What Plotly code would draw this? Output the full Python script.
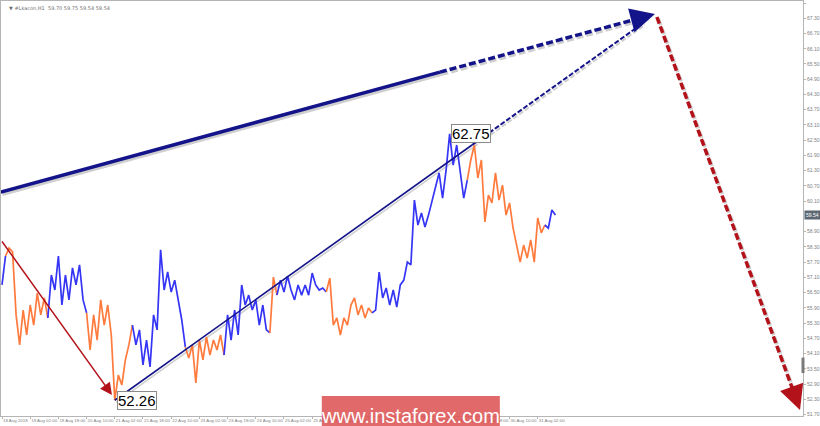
import plotly.graph_objects as go

# ---- data (H1 bars, one value every 2 hours) ----
price = [56.80, 57.94, 58.25, 58.10, 55.62, 54.44, 55.81, 54.83, 56.01, 55.22,
         56.48, 55.62, 56.29, 55.50, 57.19, 56.60, 57.94, 56.01, 57.19, 56.21,
         57.47, 56.80, 57.59, 56.21, 55.70, 54.24, 55.62, 54.63, 56.21, 55.22,
         56.01, 54.83, 52.26, 53.25, 52.86, 53.85, 54.44, 55.22, 54.44, 55.03,
         53.65, 54.63, 53.57, 55.62, 55.03, 58.18, 56.60, 57.31, 56.52, 56.99,
         56.21, 55.42, 54.36, 53.92, 54.44, 52.94, 54.63, 53.85, 54.75, 54.04,
         54.63, 54.24, 54.83, 54.04, 55.62, 54.63, 55.81, 54.83, 56.80, 56.01,
         56.40, 55.81, 56.21, 55.22, 56.01, 55.03, 54.91, 57.11, 56.40, 56.99,
         56.52, 57.15, 56.60, 56.21, 56.80, 56.40, 56.80, 56.40, 57.27, 56.80,
         56.60, 56.68, 56.52, 57.07, 55.22, 55.50, 54.83, 55.50, 55.22, 56.01,
         56.29, 55.62, 56.01, 55.50, 55.89, 55.70, 55.81, 57.31, 56.29, 56.68,
         56.01, 56.60, 55.93, 56.80, 56.99, 57.70, 57.59, 60.14, 59.16, 59.63,
         59.08, 59.55, 60.14, 60.73, 61.21, 60.22, 61.33, 62.75, 61.52, 62.31,
         61.33, 60.22, 60.93, 61.72, 62.31, 61.01, 61.72, 59.28, 60.34, 60.03,
         61.21, 60.14, 60.73, 59.55, 60.03, 59.04, 58.37, 57.70, 58.37, 57.86,
         58.57, 57.70, 59.44, 58.85, 59.16, 59.04, 59.75, 59.55]
hours = [2 * k for k in range(len(price))]

# wave segments (index boundaries) and their direction
seg_breaks = [0, 1, 13, 24, 37, 52, 63, 76, 78, 92, 105, 132, 154, 157]
seg_waves = ['up', 'down', 'up', 'down', 'up', 'down', 'up', 'down', 'up',
             'down', 'up', 'down', 'up']

x_ticks = [0, 16, 32, 48, 64, 80, 96, 112, 128, 144, 160, 176, 192, 208, 224,
           240, 256, 272, 288, 304]
x_labels = ['18 Aug 2018', '19 Aug 02:00', '19 Aug 18:00', '20 Aug 10:00',
            '21 Aug 02:00', '21 Aug 18:00', '22 Aug 10:00', '23 Aug 02:00',
            '23 Aug 18:00', '24 Aug 10:00', '25 Aug 02:00', '25 Aug 18:00',
            '26 Aug 10:00', '27 Aug 02:00', '27 Aug 18:00', '28 Aug 10:00',
            '29 Aug 02:00', '29 Aug 18:00', '30 Aug 10:00', '31 Aug 02:00']
y_ticks = [51.70, 52.30, 52.90, 53.50, 54.10, 54.70, 55.30, 55.90, 56.50, 57.10,
           57.70, 58.30, 58.90, 60.10, 60.70, 61.30, 61.90, 62.50, 63.10, 63.70,
           64.30, 64.90, 65.50, 66.10, 66.70, 67.30, 67.90]

last_price = 59.54
high_label = 62.75
low_label = 52.26

# forecast / wave lines (hour index, price)
big_solid_x = [-0.6, 248.5]
big_solid_y = [60.46, 65.18]
big_dash_x = [248.5, 366.0]
big_dash_y = [65.18, 67.38]
big_tip = (370.5, 67.47)

thin_solid_x = [64, 266.7]
thin_solid_y = [52.26, 62.31]
thin_dash_x = [266.7, 364.0]
thin_dash_y = [62.31, 67.12]

red_dash_x = [371.6, 450.8]
red_dash_y = [67.35, 52.28]
red_tip = (452.8, 51.88)

red_solid_start = (-0.6, 58.57)
red_solid_end = (62.4, 52.47)

colors = {'up': '#3535f5', 'down': '#ff7a3d'}
navy = '#14148a'
dark_red = '#b3121a'
shadow = '#cfcfcf'

fig = go.Figure()


def add_line(xs, ys, color, width, dash='solid'):
    fig.add_trace(go.Scatter(x=xs, y=ys, mode='lines',
                             line=dict(color=color, width=width, dash=dash),
                             hoverinfo='skip', showlegend=False))


# shadows of the wave lines
add_line([v + 0.8 for v in big_solid_x], [v - 0.09 for v in big_solid_y], shadow, 3.5)
add_line([v + 0.8 for v in big_dash_x], [v - 0.09 for v in big_dash_y], shadow, 3.5, '7px,3px')
add_line([v + 0.8 for v in thin_solid_x], [v - 0.08 for v in thin_solid_y], shadow, 1.6)
add_line([v + 0.8 for v in thin_dash_x], [v - 0.08 for v in thin_dash_y], shadow, 2, '5px,2px')
add_line([v + 0.8 for v in red_dash_x], [v - 0.06 for v in red_dash_y], shadow, 3.5, '7px,3px')

# price series coloured by wave
for i, wave in enumerate(seg_waves):
    a, b = seg_breaks[i], seg_breaks[i + 1]
    fig.add_trace(go.Scatter(x=hours[a:b + 1], y=price[a:b + 1], mode='lines',
                             line=dict(color=colors[wave], width=1.7),
                             hoverinfo='skip', showlegend=False))

add_line(big_solid_x, big_solid_y, navy, 3.5)
add_line(big_dash_x, big_dash_y, navy, 3.5, '7px,3px')
add_line(thin_solid_x, thin_solid_y, navy, 1.6)
add_line(thin_dash_x, thin_dash_y, navy, 2, '5px,2px')
add_line(red_dash_x, red_dash_y, dark_red, 3.5, '7px,3px')

ann = []
# arrow heads
ann.append(dict(x=big_tip[0], y=big_tip[1], ax=big_dash_x[1] - 3, ay=big_dash_y[1] - 0.05,
                xref='x', yref='y', axref='x', ayref='y', text='', showarrow=True,
                arrowhead=2, arrowsize=1.4, arrowwidth=3.5, arrowcolor=navy))
ann.append(dict(x=red_tip[0], y=red_tip[1], ax=red_dash_x[1] - 1.4, ay=red_dash_y[1] + 0.25,
                xref='x', yref='y', axref='x', ayref='y', text='', showarrow=True,
                arrowhead=2, arrowsize=1.4, arrowwidth=3.5, arrowcolor=dark_red))
ann.append(dict(x=red_solid_end[0], y=red_solid_end[1], ax=red_solid_start[0], ay=red_solid_start[1],
                xref='x', yref='y', axref='x', ayref='y', text='', showarrow=True,
                arrowhead=2, arrowsize=1.6, arrowwidth=1.5, arrowcolor=dark_red))
# value labels
ann.append(dict(x=hours[127] + 1, y=high_label, xref='x', yref='y', text=f'{high_label:.2f}',
                showarrow=False, xanchor='left', yanchor='middle',
                font=dict(family='Liberation Sans, Arial', size=15, color='black'),
                bgcolor='white', bordercolor='#8a8a8a', borderwidth=1, borderpad=0))
ann.append(dict(x=hours[32] + 1, y=low_label, xref='x', yref='y', text=f'{low_label:.2f}',
                showarrow=False, xanchor='left', yanchor='middle',
                font=dict(family='Liberation Sans, Arial', size=15, color='black'),
                bgcolor='white', bordercolor='#8a8a8a', borderwidth=1, borderpad=0))
# current price label on the axis
ann.append(dict(x=1.0, y=last_price, xref='paper', yref='y', text=f'{last_price:.2f}',
                showarrow=False, xanchor='left', yanchor='middle', xshift=1,
                font=dict(family='Liberation Sans', size=5, color='white'),
                bgcolor='#5d6873', borderpad=1))
# header
ann.append(dict(x=0.008, y=0.995, xref='paper', yref='paper',
                text='▼ #Lkacon,H1  59.70 59.75 59.54 59.54', showarrow=False,
                xanchor='left', yanchor='top',
                font=dict(family='DejaVu Sans', size=5, color='#707070')))
# watermark
ann.append(dict(x=0.511, y=-0.0, xref='paper', yref='paper', text='www.instaforex.com',
                showarrow=False, xanchor='center', yanchor='middle',
                font=dict(family='Liberation Sans, Arial', size=20, color='white')))

shapes = [
    dict(type='rect', xref='paper', yref='paper', x0=0.400, x1=0.622, y0=-0.03, y1=0.048,
         fillcolor='rgba(222,84,84,0.88)', line=dict(width=0), layer='above'),
    dict(type='line', xref='paper', yref='y', x0=1.0, x1=1.0, y0=53.33, y1=53.94,
         line=dict(color='#7a7a7a', width=3)),
]

fig.update_layout(
    width=820, height=426,
    margin=dict(l=1, r=17, t=1, b=10, autoexpand=False),
    paper_bgcolor='white', plot_bgcolor='white',
    showlegend=False, hovermode=False,
    annotations=ann, shapes=shapes,
    xaxis=dict(range=[-0.567, 454.5], tickvals=x_ticks, ticktext=x_labels,
               showgrid=False, zeroline=False, showline=True, mirror=True,
               linecolor='#b5b5b5', linewidth=1, ticks='outside', ticklen=2,
               tickcolor='#b5b5b5', ticklabelposition='outside right',
               tickangle=0, automargin=False,
               tickfont=dict(family='Liberation Sans', size=4.4, color='#808080')),
    yaxis=dict(range=[51.64, 67.98], side='right', tickvals=y_ticks,
               tickformat='.2f', showgrid=False, zeroline=False, showline=True,
               mirror=True, linecolor='#b5b5b5', linewidth=1, ticks='outside',
               ticklen=2, tickcolor='#b5b5b5', automargin=False,
               tickfont=dict(family='Liberation Sans', size=5, color='#808080')),
)

fig.write_html('out.html', config={'displayModeBar': False},
               post_script="document.body.style.margin='0';document.body.style.padding='0';")
